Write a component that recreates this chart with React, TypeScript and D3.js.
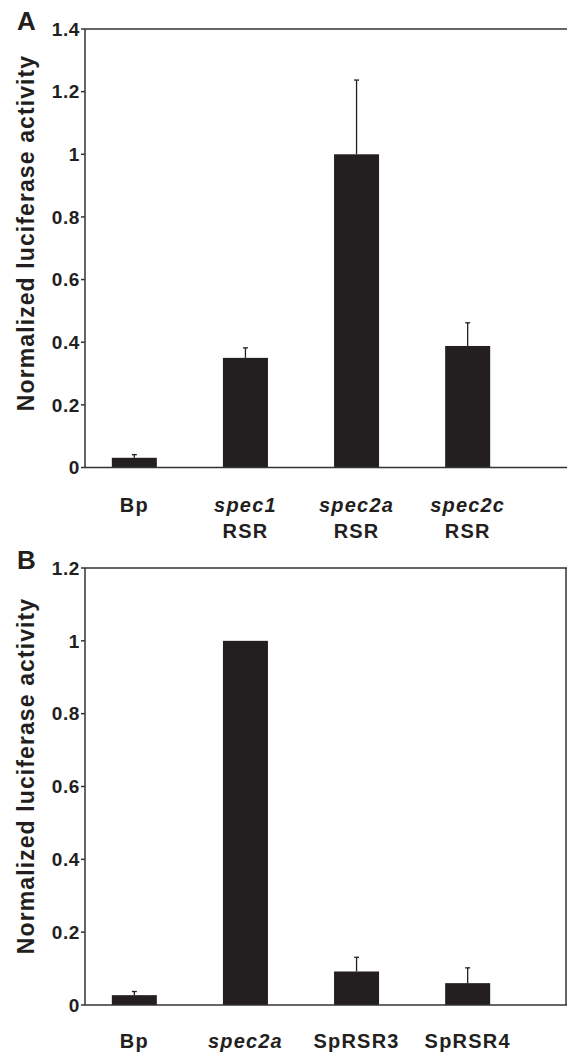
import React from "react";
import * as d3 from "d3";

// panel A data
const catsA = ["Bp", "spec1 RSR", "spec2a RSR", "spec2c RSR"];
const valsA = [0.031, 0.35, 1.0, 0.388];
const errA = [0.01, 0.032, 0.237, 0.074];
const ticksA = [0, 0.2, 0.4, 0.6, 0.8, 1, 1.2, 1.4];

// panel B data
const catsB = ["Bp", "spec2a", "SpRSR3", "SpRSR4"];
const valsB = [0.027, 1.0, 0.092, 0.06];
const errB = [0.01, 0, 0.039, 0.042];
const ticksB = [0, 0.2, 0.4, 0.6, 0.8, 1, 1.2];

const FONT = "'Liberation Sans', Arial, sans-serif";
const INK = "#231f20";

// label lines: [text, italic]
const labelLines = (c: string): [string, boolean][] => {
  if (c.startsWith("spec")) {
    const parts = c.split(" ");
    return parts.map((p, i) => [p, i === 0] as [string, boolean]);
  }
  return [[c, false]];
};

type PanelProps = {
  letter: string;
  top: number;
  bottom: number;
  yMax: number;
  cats: string[];
  vals: number[];
  errs: number[];
  ticks: number[];
  rightBorder: boolean;
  labelY: number;
  titleY: number;
};

function Panel({ letter, top, bottom, yMax, cats, vals, errs, ticks, rightBorder, labelY, titleY }: PanelProps) {
  const axisX = 85;
  const rightX = 566;
  const x = d3.scaleBand().domain(cats).range([78.5, 523.5]).paddingInner(0.595).paddingOuter(0.3);
  const y = d3.scaleLinear().domain([0, yMax]).range([bottom, top]);
  const fmt = (t: number) => (t === 0 ? "0" : d3.format("~g")(t));

  return (
    <g>
      <text x={17} y={top + 0.5} fontFamily={FONT} fontWeight="bold" fontSize={26} fill={INK}>
        {letter}
      </text>
      {/* y title */}
      <text
        transform={`translate(34,${titleY}) rotate(-90)`}
        textAnchor="middle"
        fontFamily={FONT}
        fontWeight="bold"
        fontSize={23}
        letterSpacing={1.1}
        fill={INK}
      >
        Normalized luciferase activity
      </text>
      {/* bars */}
      {cats.map((c, i) => (
        <rect key={c} x={x(c)} y={y(vals[i])} width={x.bandwidth()} height={y(0) - y(vals[i])} fill={INK} />
      ))}
      {/* error bars */}
      {cats.map((c, i) =>
        errs[i] > 0 ? (
          <g key={c + "e"} stroke={INK} strokeWidth={1.3}>
            <line x1={x(c)! + x.bandwidth() / 2} x2={x(c)! + x.bandwidth() / 2} y1={y(vals[i])} y2={y(vals[i] + errs[i])} />
            <line
              x1={x(c)! + x.bandwidth() / 2 - 2.5}
              x2={x(c)! + x.bandwidth() / 2 + 2.5}
              y1={y(vals[i] + errs[i])}
              y2={y(vals[i] + errs[i])}
            />
          </g>
        ) : null
      )}
      {/* axes frame */}
      <g stroke="#333" strokeWidth={1.5} fill="none">
        <line x1={axisX} x2={axisX} y1={top} y2={bottom} />
        <line x1={axisX} x2={567} y1={bottom} y2={bottom} />
        <line x1={axisX} x2={567} y1={top} y2={top} />
        {rightBorder && <line x1={rightX} x2={rightX} y1={top} y2={bottom} />}
        {ticks.map((t) => (
          <line key={t} x1={axisX - 4} x2={axisX} y1={y(t)} y2={y(t)} />
        ))}
      </g>
      {ticks.map((t) => (
        <text
          key={t}
          x={axisX - 5}
          y={y(t) + 6.8}
          textAnchor="end"
          fontFamily={FONT}
          fontWeight="bold"
          fontSize={19}
          letterSpacing={0.6}
          fill={INK}
        >
          {fmt(t)}
        </text>
      ))}
      {/* category labels */}
      {cats.map((c) =>
        labelLines(c).map(([s, it], j) => (
          <text
            key={c + j}
            x={x(c)! + x.bandwidth() / 2}
            y={labelY + j * 26}
            textAnchor="middle"
            fontFamily={FONT}
            fontWeight="bold"
            fontStyle={it ? "italic" : "normal"}
            fontSize={20}
            letterSpacing={1.2}
            fill={INK}
          >
            {s}
          </text>
        ))
      )}
    </g>
  );
}

export default function App() {
  return (
    <svg width={567} height={1053} style={{ position: "absolute", left: 0, top: 0, background: "#fff" }}>
      <Panel
        letter="A"
        top={29}
        bottom={467.5}
        yMax={1.4}
        cats={catsA}
        vals={valsA}
        errs={errA}
        ticks={ticksA}
        rightBorder={false}
        labelY={511.5}
        titleY={233}
      />
      <Panel
        letter="B"
        top={568}
        bottom={1005}
        yMax={1.2}
        cats={catsB}
        vals={valsB}
        errs={errB}
        ticks={ticksB}
        rightBorder={true}
        labelY={1048}
        titleY={776}
      />
    </svg>
  );
}
